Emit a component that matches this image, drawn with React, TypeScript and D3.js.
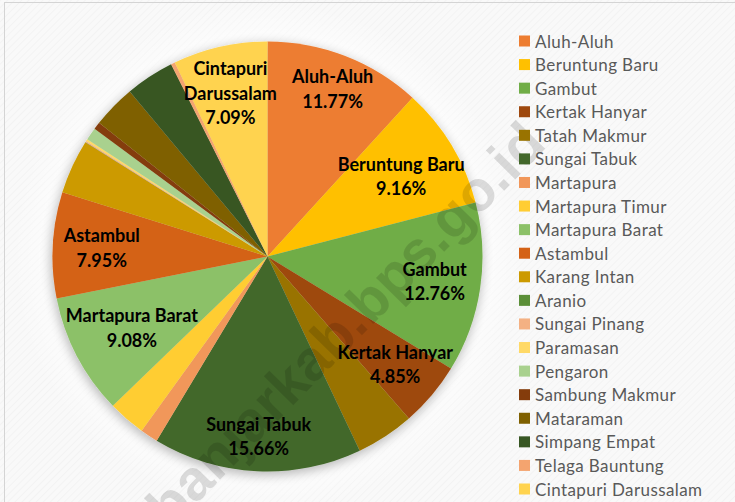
import React from "react";
import * as d3 from "d3";

const names = [
  "Aluh-Aluh", "Beruntung Baru", "Gambut", "Kertak Hanyar", "Tatah Makmur",
  "Sungai Tabuk", "Martapura", "Martapura Timur", "Martapura Barat", "Astambul",
  "Karang Intan", "Aranio", "Sungai Pinang", "Paramasan", "Pengaron",
  "Sambung Makmur", "Mataraman", "Simpang Empat", "Telaga Bauntung", "Cintapuri Darussalam",
];
const shares = [
  11.77, 9.16, 12.76, 4.85, 4.36,
  15.66, 1.33, 2.83, 9.08, 7.95,
  4.08, 0.03, 0.08, 0.15, 0.95,
  0.55, 3.25, 3.67, 0.3, 7.09,
];
const colors = [
  "#ED7D31", "#FFC000", "#70AD47", "#9E480E", "#997300",
  "#43682B", "#F1975A", "#FFCD33", "#8CC168", "#D46216",
  "#CC9A00", "#5B8F38", "#F4B183", "#FFD966", "#A9D18E",
  "#843C0C", "#7F6000", "#375623", "#F4A46F", "#FFD34F",
];
// radial placement of the data labels (fraction of radius), Excel "best fit"-like
const labelRadius: Record<string, number> = {
  "Aluh-Aluh": 0.837, "Beruntung Baru": 0.726, "Gambut": 0.786, "Kertak Hanyar": 0.777,
  "Sungai Tabuk": 0.837, "Martapura Barat": 0.712, "Astambul": 0.772, "Cintapuri Darussalam": 0.781,
};
const labelThreshold = 4.5;

const W = 735, H = 502;
const cx = 267.5, cy = 256.5, R = 215;

export default function App() {
  const data = names.map((n, i) => ({ name: n, value: shares[i], color: colors[i] }));
  const pie = d3.pie<any>().sort(null).value((d) => d.value).startAngle(0).endAngle(2 * Math.PI);
  const arcs = pie(data);
  const arc = d3.arc<any>().innerRadius(0).outerRadius(R);

  const legendY = d3.scaleLinear().domain([0, names.length - 1]).range([41, 489]);

  return (
    <svg width={W} height={H} style={{ position: "absolute", left: 0, top: 0 }}
      fontFamily="Lato, 'Open Sans', sans-serif">
      <defs>
        <pattern id="hatch" width="5" height="5" patternUnits="userSpaceOnUse" patternTransform="rotate(45)">
          <rect width="5" height="5" fill="#f9f9f9" />
          <line x1="0" y1="0" x2="0" y2="5" stroke="#f1f1f1" strokeWidth="1.5" />
        </pattern>
        <filter id="shadow" x="-20%" y="-20%" width="140%" height="140%">
          <feGaussianBlur in="SourceAlpha" stdDeviation="6" />
          <feOffset dx="-1" dy="3" result="b" />
          <feComponentTransfer><feFuncA type="linear" slope="0.3" /></feComponentTransfer>
          <feMerge><feMergeNode /><feMergeNode in="SourceGraphic" /></feMerge>
        </filter>
        <radialGradient id="glow" cx="0.5" cy="0.5" r="0.5">
          <stop offset="0.75" stopColor="#ffffff" stopOpacity="1" />
          <stop offset="1" stopColor="#ffffff" stopOpacity="0" />
        </radialGradient>
      </defs>
      <rect x={0} y={0} width={W} height={H} fill="url(#hatch)" />
      <rect x={4.5} y={2.5} width={W} height={H} fill="none" stroke="#d4d4d4" strokeWidth={1} />
      <circle cx={cx} cy={cy} r={R + 40} fill="url(#glow)" />
      <g transform={`translate(${cx},${cy})`} filter="url(#shadow)">
        {arcs.map((a, i) => (
          <path key={i} d={arc(a) as string} fill={a.data.color} />
        ))}
      </g>
      <g transform={`translate(${cx},${cy})`}>
        {arcs.filter((a) => a.data.value >= labelThreshold).map((a, i) => {
          const mid = (a.startAngle + a.endAngle) / 2;
          const r = R * (labelRadius[a.data.name] ?? 0.78);
          const x = Math.sin(mid) * r;
          const y = -Math.cos(mid) * r;
          const nameLines = a.data.name.length > 15 ? a.data.name.split(" ") : [a.data.name];
          const lines = [...nameLines, `${a.data.value.toFixed(2)}%`];
          const lh = 24.5;
          const y0 = y - ((lines.length - 1) * lh) / 2;
          return (
            <text key={i} x={x} textAnchor="middle" fontWeight="bold" fontSize={18} fill="#000">
              {lines.map((l, j) => (
                <tspan key={j} x={x} y={y0 + j * lh} dominantBaseline="central">{l}</tspan>
              ))}
            </text>
          );
        })}
      </g>
      <text x={548} y={146} textAnchor="end" transform="rotate(-45.5 548 146)"
        fontFamily="'Liberation Sans', Arial, sans-serif" fontWeight="bold" fontSize={57}
        fill="#000" fillOpacity={0.13}>banjarkab.bps.go.id</text>
      <g>
        {data.map((d, i) => (
          <g key={i} transform={`translate(519,${legendY(i)})`}>
            <rect x={0} y={-5.5} width={11} height={11} fill={d.color} />
            <text x={16} y={0} dominantBaseline="central" fontSize={17} letterSpacing={0.4} fill="#595959">{d.name}</text>
          </g>
        ))}
      </g>
    </svg>
  );
}
